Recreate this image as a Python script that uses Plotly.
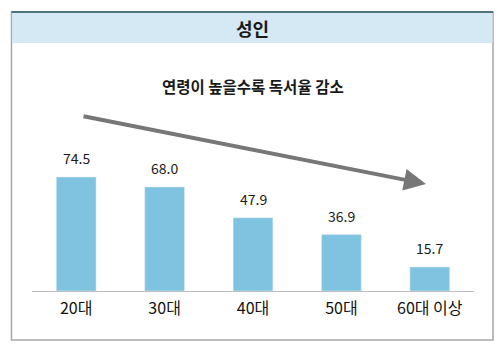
import plotly.graph_objects as go

categories = ["20대", "30대", "40대", "50대", "60대 이상"]
values = [74.5, 68.0, 47.9, 36.9, 15.7]
title_text = "성인"
subtitle_text = "연령이 높을수록 독서율 감소"

FONT = "Noto Sans CJK KR"
BAR_COLOR = "#7fc3e1"

fig = go.Figure()
fig.add_trace(go.Bar(
    x=categories, y=values, marker_color=BAR_COLOR, width=0.45,
    hoverinfo="skip",
))

for c, v in zip(categories, values):
    fig.add_annotation(x=c, y=v, text=f"{v:.1f}", showarrow=False,
                       yanchor="bottom", yshift=7,
                       font=dict(family=FONT, size=14, color="#1a1a1a"))

# outer box and header band (pixel-sized, anchored at plot corner)
fig.add_shape(type="rect", xref="paper", yref="paper",
              xsizemode="pixel", ysizemode="pixel", xanchor=0, yanchor=0,
              x0=-20.5, x1=461, y0=-49, y1=279,
              line=dict(color="#a6a6a6", width=1.5), fillcolor="rgba(0,0,0,0)",
              layer="below")
fig.add_shape(type="rect", xref="paper", yref="paper",
              xsizemode="pixel", ysizemode="pixel", xanchor=0, yanchor=0,
              x0=-20, x1=460.5, y0=248, y1=279,
              line=dict(width=0), fillcolor="#d5e9f5", layer="below")
fig.add_shape(type="line", xref="paper", yref="paper",
              xsizemode="pixel", ysizemode="pixel", xanchor=0, yanchor=0,
              x0=-20.5, x1=461, y0=279, y1=279,
              line=dict(color="#4f7282", width=2))

fig.add_annotation(xref="paper", yref="paper", x=0.498, y=(291 - 28) / 191,
                   xanchor="center", yanchor="middle",
                   text=f"<b>{title_text}</b>", showarrow=False,
                   font=dict(family=FONT, size=18, color="#1a1a1a"))
fig.add_annotation(xref="paper", yref="paper", x=0.5, y=(291 - 86) / 191,
                   xanchor="center", yanchor="middle",
                   text=f"<b>{subtitle_text}</b>", showarrow=False,
                   font=dict(family=FONT, size=15.5, color="#1a1a1a"))

# trend arrow
fig.add_annotation(xref="paper", yref="paper",
                   x=(426 - 32) / 442, y=(291 - 184) / 191,
                   ax=-344, ay=-68, text="", showarrow=True,
                   arrowhead=2, arrowsize=1.1, arrowwidth=4,
                   arrowcolor="#777777", standoff=0)

fig.update_layout(
    width=498, height=347,
    margin=dict(l=32, r=24, t=100, b=56),
    paper_bgcolor="white", plot_bgcolor="white",
    showlegend=False,
    bargap=0.55,
    xaxis=dict(showline=True, linecolor="#bfbfbf", linewidth=1,
               ticks="", showgrid=False, zeroline=False,
               tickfont=dict(family=FONT, size=16, color="#111111"),
               ticklabelstandoff=3,
               range=[-0.5, 4.5], fixedrange=True),
    yaxis=dict(range=[0, 191 / 1.53], visible=False, showgrid=False,
               zeroline=False, fixedrange=True),
)

fig.write_html("out.html")
